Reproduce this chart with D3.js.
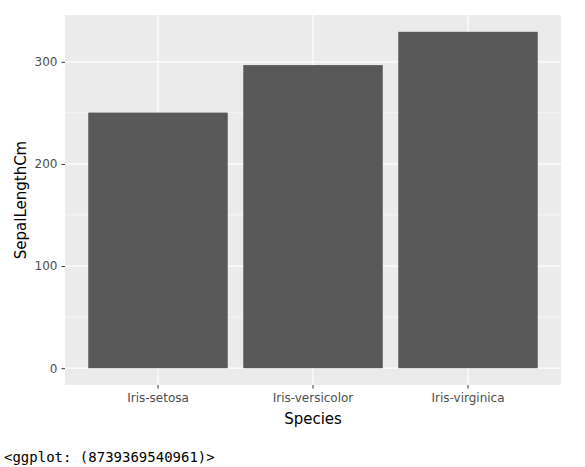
<!DOCTYPE html>
<html>
<head>
<meta charset="utf-8">
<script src="https://cdn.jsdelivr.net/npm/d3@7"></script>
<style>
  body { margin: 0; background: #fff; }
  svg { display: block; }
  pre { margin: 0; position: absolute; left: 4px; top: 449px; font-family: "DejaVu Sans Mono", monospace; font-size: 14px; color: #000; }
</style>
</head>
<body>
<svg width="585" height="440"></svg>
<pre>&lt;ggplot: (8739369540961)&gt;</pre>
<script>
const species = ["Iris-setosa", "Iris-versicolor", "Iris-virginica"];
const sepalSums = [250.3, 296.8, 329.4];
const yTicks = [0, 100, 200, 300];
const yMinor = [50, 150, 250];

const svg = d3.select("svg");
const panel = { left: 65, top: 15, right: 561, bottom: 385 };

const x = d3.scaleBand()
    .domain(species)
    .range([panel.left, panel.right])
    .paddingInner(0.1)
    .paddingOuter(0.15);

// ggplot expands the continuous axis by 5% on both sides
const yMax = d3.max(sepalSums);
const y = d3.scaleLinear()
    .domain([-yMax * 0.05, yMax * 1.05])
    .range([panel.bottom, panel.top]);

svg.append("rect")
    .attr("x", panel.left)
    .attr("y", panel.top)
    .attr("width", panel.right - panel.left)
    .attr("height", panel.bottom - panel.top)
    .attr("fill", "#ebebeb");

// minor grid
svg.append("g").selectAll("line")
    .data(yMinor)
    .join("line")
    .attr("x1", panel.left).attr("x2", panel.right)
    .attr("y1", d => y(d)).attr("y2", d => y(d))
    .attr("stroke", "#fff").attr("stroke-width", 0.6);

// major grid
svg.append("g").selectAll("line")
    .data(yTicks)
    .join("line")
    .attr("x1", panel.left).attr("x2", panel.right)
    .attr("y1", d => y(d)).attr("y2", d => y(d))
    .attr("stroke", "#fff").attr("stroke-width", 1.2);

svg.append("g").selectAll("line")
    .data(species)
    .join("line")
    .attr("x1", d => x(d) + x.bandwidth() / 2).attr("x2", d => x(d) + x.bandwidth() / 2)
    .attr("y1", panel.top).attr("y2", panel.bottom)
    .attr("stroke", "#fff").attr("stroke-width", 1.2);

// bars
svg.append("g").selectAll("rect")
    .data(species)
    .join("rect")
    .attr("x", d => x(d))
    .attr("width", x.bandwidth())
    .attr("y", (d, i) => y(sepalSums[i]))
    .attr("height", (d, i) => y(0) - y(sepalSums[i]))
    .attr("fill", "#595959");

// axes
const yAxis = svg.append("g")
    .attr("transform", `translate(${panel.left},0)`)
    .call(d3.axisLeft(y).tickValues(yTicks).tickSize(3.5).tickPadding(4));
const xAxis = svg.append("g")
    .attr("transform", `translate(0,${panel.bottom})`)
    .call(d3.axisBottom(x).tickSize(3.5).tickPadding(4.5));

[yAxis, xAxis].forEach(a => {
    a.select(".domain").remove();
    a.selectAll(".tick line").attr("stroke", "#333");
    a.selectAll(".tick text")
        .attr("fill", "#4d4d4d")
        .style("font-family", "DejaVu Sans")
        .style("font-size", "12px");
});

svg.append("text")
    .attr("x", (panel.left + panel.right) / 2)
    .attr("y", 424)
    .attr("text-anchor", "middle")
    .style("font-family", "DejaVu Sans")
    .style("font-size", "15px")
    .text("Species");

svg.append("text")
    .attr("transform", `translate(26,${(panel.top + panel.bottom) / 2}) rotate(-90)`)
    .attr("text-anchor", "middle")
    .style("font-family", "DejaVu Sans")
    .style("font-size", "15px")
    .text("SepalLengthCm");
</script>
</body>
</html>
